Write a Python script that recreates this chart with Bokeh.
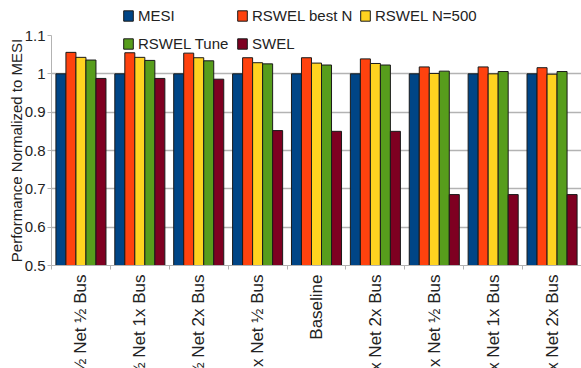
import math
import numpy as np
from bokeh.plotting import figure
from bokeh.layouts import column
from bokeh.models import Range1d, FixedTicker, Legend, LegendItem
from bokeh.core.properties import value
from bokeh.embed import file_html
from bokeh.resources import INLINE

# Interconnect / bus configurations
configs = ["½ Net ½ Bus", "½ Net 1x Bus", "½ Net 2x Bus", "1x Net ½ Bus", "Baseline",
           "1x Net 2x Bus", "2x Net ½ Bus", "2x Net 1x Bus", "2x Net 2x Bus"]

# Performance normalized to MESI
mesi = [1.000, 1.000, 1.000, 1.000, 1.000, 1.000, 1.000, 1.000, 1.000]
rswel_best_n = [1.056, 1.055, 1.054, 1.042, 1.042, 1.039, 1.018, 1.018, 1.016]
rswel_n500 = [1.043, 1.043, 1.042, 1.029, 1.028, 1.027, 1.001, 1.000, 0.999]
rswel_tune = [1.036, 1.035, 1.034, 1.026, 1.023, 1.023, 1.007, 1.006, 1.006]
swel = [0.988, 0.988, 0.986, 0.852, 0.850, 0.850, 0.685, 0.685, 0.685]

series_names = ["MESI", "RSWEL best N", "RSWEL N=500", "RSWEL Tune", "SWEL"]
series_values = [mesi, rswel_best_n, rswel_n500, rswel_tune, swel]
colors = ["#004586", "#ff420e", "#ffd320", "#579d1c", "#7e0021"]

y_ticks = [0.5, 0.6, 0.7, 0.8, 0.9, 1.0, 1.1]
y_tick_labels = ["0.5", "0.6", "0.7", "0.8", "0.9", "1", "1.1"]

FONT = "Liberation Sans"
TEXT = "#222222"
GRID = "#b3b3b3"
OUTLINE = "#1a1a1a"
BAR_W = 0.17

x_range = Range1d(0, len(configs))
idx = np.arange(len(configs))


def legend_for(name, renderer, loc):
    return Legend(items=[LegendItem(label=name, renderers=[renderer])], location=loc,
                  orientation="horizontal", background_fill_alpha=0, border_line_alpha=0,
                  glyph_width=12, glyph_height=13, label_standoff=4,
                  label_text_font=FONT, label_text_font_size="15px", label_text_color=TEXT,
                  label_height=20, spacing=0, padding=0, margin=0)


def style_bar_figure(fig):
    fig.axis.visible = False
    fig.grid.visible = False
    fig.outline_line_color = None


# ---- main bar chart ----
p = figure(width=581, height=249, output_backend="svg", toolbar_location=None,
           x_range=x_range, y_range=Range1d(0.5, 1.1),
           min_border_left=51, min_border_right=0, min_border_top=10,
           min_border_bottom=9)
p.outline_line_color = None

renderers = []
for k, (vals, col) in enumerate(zip(series_values, colors)):
    xs = idx + 0.5 + (k - 2) * BAR_W
    r = p.vbar(x=xs, top=vals, bottom=0.5, width=BAR_W, fill_color=col,
               line_color=OUTLINE, line_width=1)
    renderers.append(r)

p.xaxis.ticker = FixedTicker(ticks=list(range(len(configs) + 1)))
p.xaxis.major_label_overrides = {i: "" for i in range(len(configs) + 1)}
p.xaxis.major_label_text_font_size = "0px"
p.xaxis.major_label_standoff = 0
p.xaxis.axis_line_color = GRID
p.xaxis.major_tick_line_color = GRID
p.xaxis.major_tick_in = 0
p.xaxis.major_tick_out = 4
p.xaxis.minor_tick_line_color = None
p.xgrid.grid_line_color = None

p.yaxis.ticker = FixedTicker(ticks=y_ticks)
p.yaxis.major_label_overrides = dict(zip(y_ticks, y_tick_labels))
p.yaxis.major_label_text_font = FONT
p.yaxis.major_label_text_font_size = "15px"
p.yaxis.major_label_text_color = TEXT
p.yaxis.major_label_standoff = 2
p.yaxis.axis_line_color = GRID
p.yaxis.major_tick_line_color = GRID
p.yaxis.major_tick_in = 0
p.yaxis.major_tick_out = 4
p.yaxis.minor_tick_line_color = None
p.yaxis.axis_label = "Performance Normalized to MESI"
p.yaxis.axis_label_text_font = FONT
p.yaxis.axis_label_text_font_size = "15px"
p.yaxis.axis_label_text_font_style = "normal"
p.yaxis.axis_label_text_color = TEXT
p.yaxis.axis_label_standoff = -3
p.ygrid.grid_line_color = GRID
p.ygrid.grid_line_width = 1.5

# second legend row sits just inside the top of the plot area
p.add_layout(legend_for(series_names[3], renderers[3], (71, 212)), "center")
p.add_layout(legend_for(series_names[4], renderers[4], (185, 212)), "center")

# ---- first legend row, above the plot area ----
# the strip shares the bar styling; its y window lies above the data, so only
# the legend swatches show
top = figure(width=581, height=25, output_backend="svg", toolbar_location=None,
             x_range=x_range, y_range=Range1d(10, 11),
             min_border_left=51, min_border_right=0, min_border_top=0, min_border_bottom=0)
style_bar_figure(top)
for k, (name, vals, col, xloc) in enumerate(zip(series_names[:3], series_values[:3],
                                                  colors[:3], (71, 185, 308))):
    swatch = top.vbar(x=idx + 0.5 + (k - 2) * BAR_W, top=vals, bottom=0.5, width=BAR_W,
                      fill_color=col, line_color=OUTLINE, line_width=1)
    top.add_layout(legend_for(name, swatch, (xloc, 0)), "center")

# ---- rotated category labels below the bars ----
q = figure(width=581, height=94, output_backend="svg", toolbar_location=None,
           x_range=x_range, y_range=Range1d(-94, 0),
           min_border_left=51, min_border_right=0, min_border_top=0, min_border_bottom=0)
style_bar_figure(q)
q.text(x=idx + 0.5, y=[0] * len(configs), text=configs, angle=math.pi / 2,
       text_align="right", text_baseline="middle", text_font=value(FONT),
       text_font_size="17px", text_color=TEXT)

layout = column(top, p, q, spacing=0)
open("out.html", "w").write(file_html(layout, INLINE))
